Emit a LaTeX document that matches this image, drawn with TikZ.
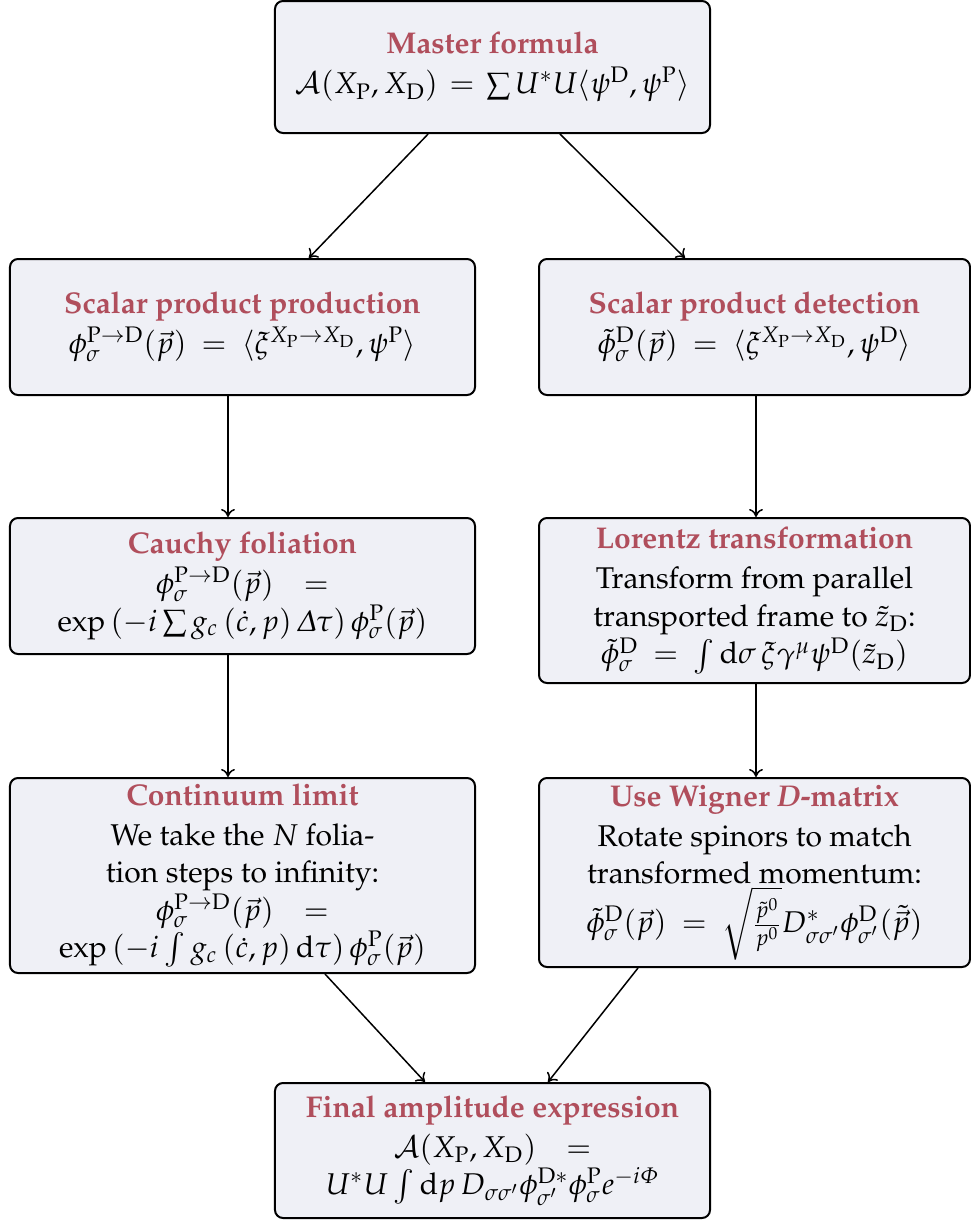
\documentclass[tikz,border=0pt]{standalone}
\usepackage[T1]{fontenc}
\usepackage{amsmath}
\usepackage[slantedGreek]{mathpazo}
\usetikzlibrary{arrows.meta}
\definecolor{boxfill}{RGB}{239,240,246}
\definecolor{titlered}{RGB}{176,78,92}
\newcommand{\ttl}[1]{{\bfseries\color{titlered}#1}}
\newcommand{\rmP}{\mathrm{P}}
\newcommand{\rmD}{\mathrm{D}}
\newcommand{\eqs}{\mkern4mu=\mkern4mu}
\newcommand{\eqb}{\mkern13mu=}
\begin{document}
\begin{tikzpicture}[x=0.4pt,y=-0.4pt,
  stepbox/.style={draw=black, line width=0.8pt, fill=boxfill, rounded corners=3.2pt,
    align=center, inner sep=2pt, font=\fontsize{12}{15}\selectfont},
  colL/.style={minimum width=186pt},
  colR/.style={minimum width=172.4pt},
  colM/.style={minimum width=174pt},
  arr/.style={-{To[length=3.2pt,width=5.5pt]}, line width=0.6pt}]
\useasboundingbox (0,0) rectangle (971,1220);

\node[stepbox, colM, minimum height=52.8pt] (top) at (492.5,67)
  {\ttl{Master formula}\\[1pt]
   $\mathcal{A}(X_\rmP,X_\rmD) \mkern2mu=\mkern2mu \sum U^*U\langle\psi^\rmD,\psi^\rmP\rangle$};

\node[stepbox, colL, minimum height=54.4pt] (L2) at (242.5,327)
  {\ttl{Scalar product production}\\[1pt]
   $\phi^{\rmP\to\rmD}_\sigma(\vec p)\eqs\langle\xi^{X_\rmP\to X_\rmD},\psi^\rmP\rangle$};

\node[stepbox, colR, minimum height=54.4pt] (R2) at (754.5,327)
  {\ttl{Scalar product detection}\\[1pt]
   $\tilde\phi^\rmD_\sigma(\vec p)\eqs\langle\xi^{X_\rmP\to X_\rmD},\psi^\rmD\rangle$};

\node[stepbox, colL, minimum height=54.4pt] (L3) at (242.5,586)
  {\ttl{Cauchy foliation}\\[1pt]
   $\phi^{\rmP\to\rmD}_\sigma(\vec p)\eqb$\\
   $\exp\,(-i\sum g_c\,(\dot c,p)\,\Delta\tau)\,\phi^\rmP_\sigma(\vec p)$};

\node[stepbox, colR, minimum height=66pt] (R3) at (754.5,600.5)
  {\ttl{Lorentz transformation}\\[1pt]
   Transform from parallel\\
   transported frame to $\tilde z_\rmD$:\\
   $\tilde\phi^\rmD_\sigma\eqs\int\mathrm{d}\sigma\,\xi\gamma^\mu\psi^\rmD(\tilde z_\rmD)$};

\node[stepbox, colL, minimum height=78pt] (L4) at (242.5,875.5)
  {\ttl{Continuum limit}\\[1pt]
   We take the $N$ folia-\\
   tion steps to infinity:\\
   $\phi^{\rmP\to\rmD}_\sigma(\vec p)\eqb$\\
   $\exp\,(-i\int g_c\,(\dot c,p)\,\mathrm{d}\tau)\,\phi^\rmP_\sigma(\vec p)$};

\node[stepbox, colR, minimum height=75.6pt] (R4) at (754.5,872.5)
  {\ttl{Use Wigner \textit{D}-matrix}\\[1pt]
   Rotate spinors to match\\
   transformed momentum:\\
   $\tilde\phi^\rmD_\sigma(\vec p)\eqs\sqrt{\frac{\tilde p^0}{p^0}}D^*_{\sigma\sigma'}\phi^\rmD_{\sigma'}(\tilde{\vec p})$};

\node[stepbox, colM, minimum height=54pt] (B) at (492.5,1150.5)
  {\ttl{Final amplitude expression}\\[1pt]
   $\mathcal{A}(X_\rmP,X_\rmD)\eqb$\\
   $U^*U\int\mathrm{d}p\,D_{\sigma\sigma'}\phi^{\rmD*}_{\sigma'}\phi^\rmP_\sigma e^{-i\Phi}$};

\coordinate (xL) at (228,0);
\coordinate (xR) at (756,0);
\coordinate (a1) at (325,0);
\coordinate (a2) at (425,0);
\coordinate (b1) at (638,0);
\coordinate (b2) at (548,0);

\draw[arr] (top) -- (L2);
\draw[arr] (top) -- (R2);
\draw[arr] (L2.south -| xL) -- (L3.north -| xL);
\draw[arr] (R2.south -| xR) -- (R3.north -| xR);
\draw[arr] (L3.south -| xL) -- (L4.north -| xL);
\draw[arr] (R3.south -| xR) -- (R4.north -| xR);
\draw[arr] (L4.south -| a1) -- (B.north -| a2);
\draw[arr] (R4.south -| b1) -- (B.north -| b2);
\end{tikzpicture}
\end{document}
